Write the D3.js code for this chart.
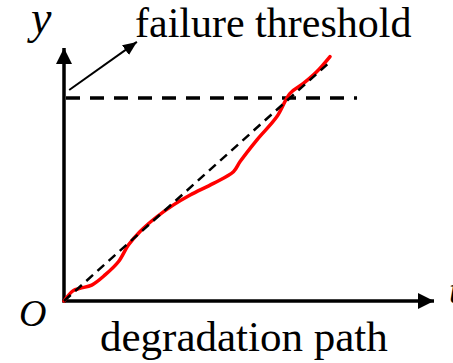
<!DOCTYPE html>
<html>
<head>
<meta charset="utf-8">
<script src="https://cdn.jsdelivr.net/npm/d3@7/dist/d3.min.js"></script>
<style>
  html, body { margin: 0; padding: 0; background: #fff; }
  svg { display: block; }
  text { font-family: "Liberation Serif", "Times New Roman", serif; fill: #000; }
</style>
</head>
<body>
<svg id="chart" width="453" height="363"></svg>
<script>
// Observed degradation path (time, degradation level)
const pathTime  = [0, 2.5, 4.3, 7.5, 11.1, 14.7, 17.4, 20.5, 25.1, 29.5, 34.1, 40.4, 45.8, 47.6, 52.1, 57.5, 61.1, 64.7, 68.3, 71.9];
const pathLevel = [0, 4.1, 5.0, 6.3, 10.3, 15.5, 22.1, 27.4, 33.3, 37.9, 41.9, 46.5, 51.1, 55.1, 63.6, 72.8, 82.1, 86.0, 90.6, 96.6];

// Linear trend of the path
const trendTime  = [0, 71.9];
const trendLevel = [0, 94.5];

// Failure threshold level and its extent along the time axis
const thresholdLevel = 80.2;
const thresholdExtent = [0, 79.2];

// Axis extents
const axisTimeMax = 100;
const axisLevelMax = 100;

// Labels
const labelY = "y";
const labelT = "t";
const labelOrigin = "O";
const labelThreshold = "failure threshold";
const labelPath = "degradation path";

const svg = d3.select("#chart");

const x = d3.scaleLinear().domain([0, axisTimeMax]).range([64, 434]);
const y = d3.scaleLinear().domain([0, axisLevelMax]).range([301, 48]);

const defs = svg.append("defs");
defs.append("marker")
  .attr("id", "axisHead")
  .attr("viewBox", "0 0 16 16")
  .attr("refX", 16).attr("refY", 8)
  .attr("markerWidth", 16).attr("markerHeight", 16)
  .attr("markerUnits", "userSpaceOnUse")
  .attr("orient", "auto")
  .append("path").attr("d", "M0,0 L16,8 L0,16 Z").attr("fill", "#000");
defs.append("marker")
  .attr("id", "noteHead")
  .attr("viewBox", "0 0 14 12")
  .attr("refX", 14).attr("refY", 6)
  .attr("markerWidth", 14).attr("markerHeight", 12)
  .attr("markerUnits", "userSpaceOnUse")
  .attr("orient", "auto")
  .append("path").attr("d", "M0,0 L14,6 L0,12 Z").attr("fill", "#000");

// Axes with arrowheads
svg.append("line")
  .attr("x1", x(0)).attr("y1", y(0) + 1.5)
  .attr("x2", x(0)).attr("y2", y(axisLevelMax))
  .attr("stroke", "#000").attr("stroke-width", 3.5)
  .attr("marker-end", "url(#axisHead)");
svg.append("line")
  .attr("x1", x(0) - 1.5).attr("y1", y(0))
  .attr("x2", x(axisTimeMax)).attr("y2", y(0))
  .attr("stroke", "#000").attr("stroke-width", 3.5)
  .attr("marker-end", "url(#axisHead)");

// Failure threshold
svg.append("line")
  .attr("x1", x(thresholdExtent[0]) + 2).attr("y1", y(thresholdLevel))
  .attr("x2", x(thresholdExtent[1])).attr("y2", y(thresholdLevel))
  .attr("stroke", "#000").attr("stroke-width", 3.5)
  .attr("stroke-dasharray", "14,10");

// Degradation path
const pathData = pathTime.map((t, i) => [t, pathLevel[i]]);
const line = d3.line()
  .x(d => x(d[0])).y(d => y(d[1]))
  .curve(d3.curveCatmullRom.alpha(0.5));
svg.append("path")
  .datum(pathData)
  .attr("d", line)
  .attr("fill", "none")
  .attr("stroke", "#ff0000").attr("stroke-width", 3.5)
  .attr("stroke-linejoin", "round").attr("stroke-linecap", "round");

// Trend line
const trendData = trendTime.map((t, i) => [t, trendLevel[i]]);
svg.append("path")
  .datum(trendData)
  .attr("d", d3.line().x(d => x(d[0])).y(d => y(d[1])))
  .attr("fill", "none")
  .attr("stroke", "#000").attr("stroke-width", 2.5)
  .attr("stroke-dasharray", "9,6");

// Pointer from the threshold to its label
svg.append("line")
  .attr("x1", x(1.4)).attr("y1", y(83.4))
  .attr("x2", x(19.7)).attr("y2", y(102.4))
  .attr("stroke", "#000").attr("stroke-width", 2)
  .attr("marker-end", "url(#noteHead)");

// Text labels
svg.append("text").text(labelY)
  .attr("x", 31).attr("y", 33)
  .attr("font-size", 46).attr("font-style", "italic");
svg.append("text").text(labelThreshold)
  .attr("x", 135).attr("y", 37)
  .attr("font-size", 42);
svg.append("text").text(labelOrigin)
  .attr("x", 19).attr("y", 326)
  .attr("font-size", 38).attr("font-style", "italic");
svg.append("text").text(labelT)
  .attr("x", 449).attr("y", 303)
  .attr("font-size", 38).attr("font-style", "italic");
svg.append("text").text(labelPath)
  .attr("x", 100).attr("y", 351)
  .attr("font-size", 43);
</script>
</body>
</html>
